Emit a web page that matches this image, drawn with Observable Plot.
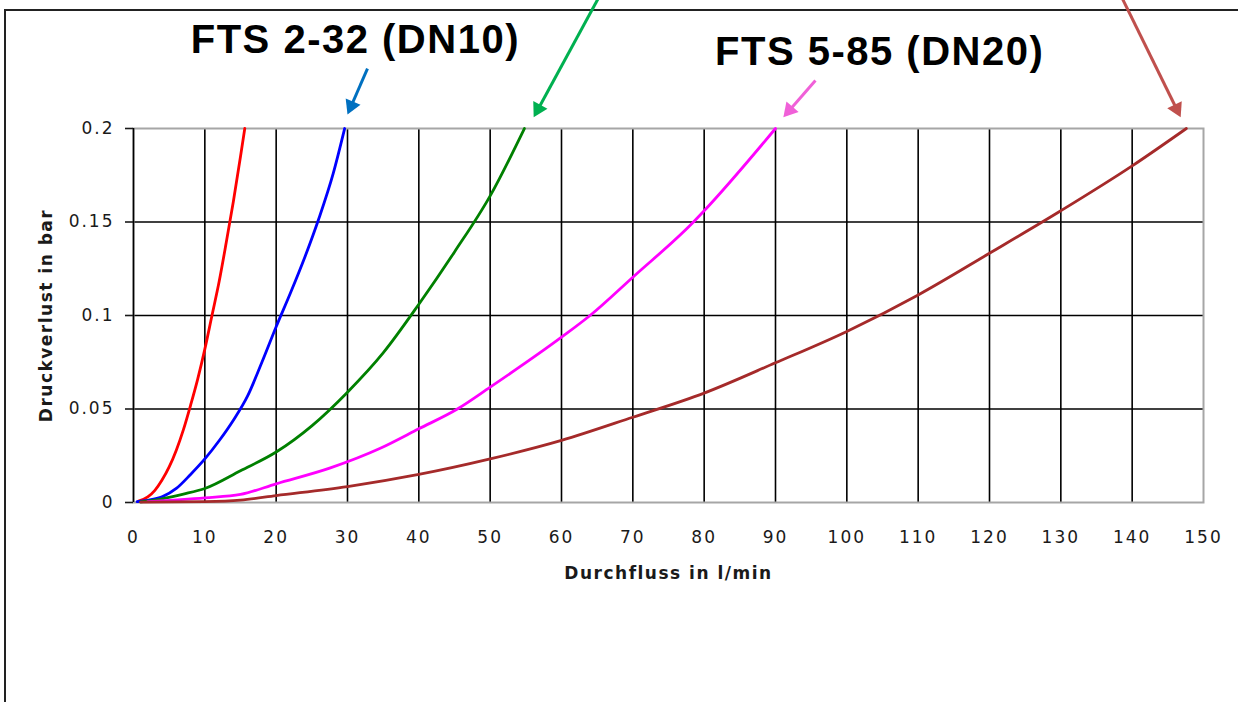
<!DOCTYPE html>
<html>
<head>
<meta charset="utf-8">
<script src="https://cdn.jsdelivr.net/npm/d3@7"></script>
<script src="https://cdn.jsdelivr.net/npm/@observablehq/plot@0.6"></script>
<style>
  html, body { margin: 0; padding: 0; background: #fff; overflow: hidden; }
  #page { position: relative; width: 1238px; height: 702px; overflow: hidden; }
  #border { position: absolute; left: 4px; top: 9px; width: 3000px; height: 3000px;
            border-left: 2px solid #222; border-top: 2px solid #222; }
  #chart { position: absolute; left: 0; top: 0; }
  g[aria-label="x-axis tick label"] text, g[aria-label="y-axis tick label"] text { letter-spacing: 2px; }
  g[aria-label="text"] text { letter-spacing: 1.5px; }
</style>
</head>
<body>
<div id="page"><div id="border"></div><div id="chart"></div></div>
<script>
// ---- data (Durchfluss l/min, Druckverlust bar) ----
const redX = [0.7, 2, 3, 4, 5, 6, 7, 8, 9, 10, 11, 12, 13, 14, 15, 15.6];
const redY = [0.0007, 0.003, 0.0065, 0.012, 0.019, 0.028, 0.039, 0.052, 0.066, 0.082, 0.1, 0.118, 0.139, 0.161, 0.185, 0.2];

const blueX = [0.5, 2, 4, 6, 8, 10, 12, 14, 16, 18, 20, 22, 24, 26, 28, 29.6];
const blueY = [0.0005, 0.0012, 0.003, 0.0075, 0.015, 0.0233, 0.033, 0.044, 0.057, 0.075, 0.094, 0.112, 0.131, 0.152, 0.176, 0.2];

const greenX = [1, 4, 7, 10, 15, 20, 25, 30, 35, 40, 45, 50, 54.8];
const greenY = [0.0003, 0.002, 0.0045, 0.0075, 0.017, 0.027, 0.041, 0.059, 0.08, 0.106, 0.134, 0.164, 0.2];

const magentaX = [2, 10, 15, 20, 27.6, 34.6, 40, 45.4, 50, 60, 64, 70, 78.5, 80, 90];
const magentaY = [0.0005, 0.0025, 0.0043, 0.01, 0.0185, 0.029, 0.0394, 0.05, 0.0617, 0.0884, 0.1, 0.1205, 0.15, 0.156, 0.2];

const brownX = [1, 10, 15, 20, 30, 40, 50, 60, 70, 80, 90, 100, 110, 120, 130, 140, 147.6];
const brownY = [0.0002, 0.0005, 0.0013, 0.0037, 0.0085, 0.015, 0.0233, 0.0332, 0.0456, 0.0585, 0.0747, 0.0915, 0.111, 0.1333, 0.156, 0.18, 0.2];

const seriesNames = ["red", "blue", "green", "magenta", "brown"];
const seriesColors = ["#ff0000", "#0000ff", "#0a7d0a", "#ff00ff", "#a84a12"];

const xTicks = [0, 10, 20, 30, 40, 50, 60, 70, 80, 90, 100, 110, 120, 130, 140, 150];
const yTicks = [0, 0.05, 0.1, 0.15, 0.2];
const xLabel = "Durchfluss in l/min";
const yLabel = "Druckverlust in bar";

// annotation labels (data units)
const labelTexts = ["FTS 2-32 (DN10)", "FTS 5-85 (DN20)"];
const labelX = [31.1, 104.6];
const labelY = [0.2406, 0.2337];

// annotation arrows (data units): tail -> tip
const arrowColors = ["#0070c0", "#00b050", "#f060d8", "#c0504d"];
const arrowTailX = [32.8, 65.5, 95.6, 138.3];
const arrowTailY = [0.232, 0.272, 0.2257, 0.272];
const arrowTipX = [30.0, 56.1, 91.1, 146.8];
const arrowTipY = [0.2075, 0.206, 0.206, 0.206];

// ---- build tables ----
const xs = [redX, blueX, greenX, magentaX, brownX];
const ys = [redY, blueY, greenY, magentaY, brownY];
const curves = seriesNames.flatMap((s, i) => xs[i].map((x, j) => ({series: s, x, y: ys[i][j]})));

const W = 1238, H = 702, ML = 133, MR = 35, MT = 128, MB = 200;
const sx = Plot.scale({x: {domain: [0, 150], range: [ML, W - MR]}});
const sy = Plot.scale({y: {domain: [0, 0.2], range: [H - MB, MT]}});

const headLen = 14;
const shafts = [], heads = [];
arrowColors.forEach((c, i) => {
  const tx = sx.apply(arrowTailX[i]), ty = sy.apply(arrowTailY[i]);
  const hx = sx.apply(arrowTipX[i]), hy = sy.apply(arrowTipY[i]);
  const len = Math.hypot(hx - tx, hy - ty);
  const ux = (hx - tx) / len, uy = (hy - ty) / len;
  const bx = hx - (headLen - 2) * ux, by = hy - (headLen - 2) * uy;
  const cx = hx - (2 / 3) * headLen * ux, cy = hy - (2 / 3) * headLen * uy;
  shafts.push({color: c, x1: arrowTailX[i], y1: arrowTailY[i], x2: sx.invert(bx), y2: sy.invert(by)});
  heads.push({color: c, x: sx.invert(cx), y: sy.invert(cy), rotate: Math.atan2(ux, -uy) * 180 / Math.PI});
});

const labels = labelTexts.map((t, i) => ({text: t, x: labelX[i], y: labelY[i]}));

const chart = Plot.plot({
  width: W, height: H,
  marginLeft: ML, marginRight: MR, marginTop: MT, marginBottom: MB,
  style: {fontFamily: "DejaVu Sans", fontSize: "17px", color: "#1a1a1a", background: "transparent", overflow: "visible"},
  x: {domain: [0, 150]},
  y: {domain: [0, 0.2]},
  color: {domain: seriesNames, range: seriesColors},
  marks: [
    Plot.gridX(xTicks.slice(1, -1), {stroke: "#000", strokeOpacity: 1, strokeWidth: 1.6}),
    Plot.gridY(yTicks.slice(1, -1), {stroke: "#000", strokeOpacity: 1, strokeWidth: 1.6}),
    Plot.frame({stroke: "#a6a6a6", strokeWidth: 2}),
    Plot.ruleX([0], {stroke: "#000", strokeWidth: 1.6}),
    Plot.axisX({ticks: xTicks, tickSize: 0, tickPadding: 28, label: null, tickFormat: d3.format("~g")}),
    Plot.axisY({ticks: yTicks, tickSize: 8, tickPadding: 11, label: null, tickFormat: d3.format("~g"), strokeWidth: 1.6}),
    Plot.line(curves, {x: "x", y: "y", z: "series", stroke: "series", strokeWidth: 2.8, curve: "monotone-x"}),
    Plot.link(shafts, {x1: "x1", y1: "y1", x2: "x2", y2: "y2", stroke: d => d.color, strokeWidth: 3}),
    Plot.dot(heads, {x: "x", y: "y", rotate: "rotate", symbol: "triangle", r: 6, fill: d => d.color, stroke: "none"}),
    Plot.text(labels, {x: "x", y: "y", text: "text", fontSize: 40, fontWeight: "bold", fontFamily: "Liberation Sans, Arial, sans-serif", fill: "#000", lineAnchor: "bottom", textAnchor: "middle"}),
    Plot.text([xLabel], {frameAnchor: "bottom", dy: 76, fontWeight: "bold", fontSize: 17, fill: "#1a1a1a"}),
    Plot.text([yLabel], {frameAnchor: "left", dx: -87, rotate: -90, textAnchor: "middle", fontWeight: "bold", fontSize: 17, fill: "#1a1a1a"})
  ]
});
document.getElementById("chart").appendChild(chart);
</script>
</body>
</html>
